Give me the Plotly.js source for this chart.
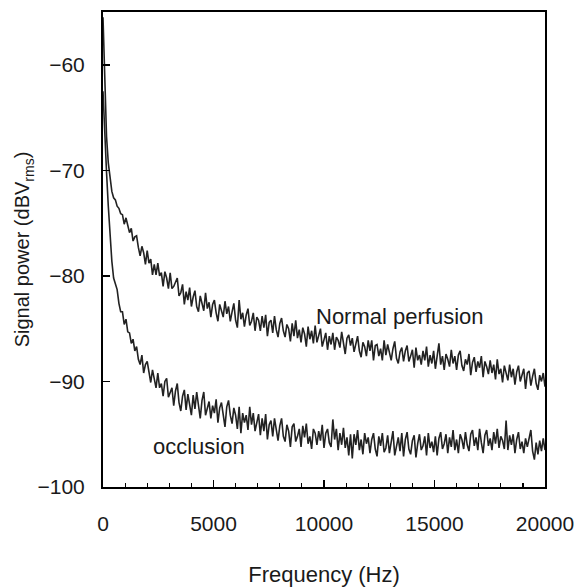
<!DOCTYPE html>
<html>
<head>
<meta charset="utf-8">
<script src="https://cdn.plot.ly/plotly-3.0.1.min.js"></script>
<style>html,body{margin:0;padding:0;background:#fff;}#chart{width:586px;height:587px;}</style>
</head>
<body>
<div id="chart"></div>
<script>
// Frequency bin spacing (Hz) of the spectra
const BIN_HZ = 80;

// Signal power (dBVrms), normal perfusion, one value per bin from 0 Hz to 20000 Hz
const normalPerfusion = [
-55.5,-62.0,-66.8,-69.3,-70.9,-72.0,-72.6,-72.8,-73.4,-73.6,-74.1,
-74.2,-75.1,-74.5,-75.2,-75.9,-75.5,-76.7,-76.3,-76.2,-77.3,
-78.1,-77.2,-77.8,-78.9,-77.6,-78.8,-78.4,-79.9,-78.9,-79.9,
-78.8,-80.0,-79.7,-81.0,-79.6,-80.2,-81.2,-79.7,-81.2,-81.0,
-80.5,-80.2,-81.9,-81.6,-80.8,-82.7,-81.5,-82.3,-81.1,-82.9,
-82.0,-81.4,-82.9,-83.4,-81.9,-82.5,-83.3,-81.6,-83.1,-82.5,
-83.9,-82.7,-82.3,-83.5,-84.3,-82.7,-83.3,-83.9,-82.4,-83.6,
-82.9,-84.3,-83.4,-82.6,-84.2,-84.9,-82.3,-84.1,-83.5,-84.8,
-83.7,-83.1,-84.7,-84.3,-83.5,-85.2,-83.9,-84.2,-85.2,-83.8,
-84.9,-83.7,-85.7,-84.4,-84.2,-85.4,-83.8,-85.1,-85.8,-84.5,
-84.0,-85.2,-85.8,-84.6,-85.0,-86.2,-84.5,-85.7,-84.2,-85.9,
-85.1,-86.3,-84.9,-85.5,-86.7,-84.8,-86.0,-85.2,-86.4,-84.7,
-86.3,-85.6,-85.0,-86.7,-86.0,-85.4,-87.0,-85.7,-86.5,-85.4,
-87.0,-85.8,-86.1,-86.8,-85.3,-86.6,-87.4,-85.9,-85.6,-86.6,
-85.9,-87.2,-86.4,-85.7,-87.1,-87.7,-86.3,-86.7,-87.6,-86.1,
-87.1,-86.1,-88.0,-86.6,-86.5,-87.6,-86.9,-88.0,-86.1,-87.5,
-86.5,-87.4,-88.0,-86.9,-86.2,-87.8,-88.3,-87.2,-86.8,-88.1,
-87.1,-86.6,-88.1,-87.6,-87.0,-88.7,-86.8,-88.0,-87.5,-88.4,
-87.1,-88.0,-86.7,-88.6,-87.5,-88.3,-87.1,-88.8,-87.4,-86.4,
-88.4,-87.6,-88.9,-87.4,-87.9,-88.6,-87.0,-88.3,-87.6,-88.9,
-87.5,-87.1,-88.5,-89.0,-87.9,-88.4,-87.4,-89.4,-88.2,-87.7,
-89.1,-88.1,-88.7,-87.6,-89.6,-88.1,-88.6,-89.3,-88.0,-89.2,
-88.4,-89.8,-87.9,-89.3,-88.8,-90.1,-88.5,-89.1,-89.9,-88.4,
-89.6,-88.8,-90.3,-89.1,-88.5,-90.0,-89.5,-88.8,-90.7,-89.2,
-89.0,-90.4,-89.5,-88.8,-90.2,-90.8,-89.4,-90.0,-89.2,-90.5
];

// Signal power (dBVrms), occlusion, one value per bin from 0 Hz to 20000 Hz
const occlusion = [
-62.5,-66.8,-70.2,-73.4,-76.3,-78.6,-80.2,-80.8,-81.3,-82.6,-83.4,
-83.4,-84.6,-84.1,-85.3,-85.4,-86.4,-86.0,-87.1,-86.7,-87.9,
-88.4,-87.5,-89.2,-88.4,-88.1,-89.3,-90.1,-88.9,-89.6,-90.6,
-89.2,-90.6,-90.2,-91.4,-90.0,-89.7,-91.5,-91.1,-90.6,-92.3,
-90.9,-90.2,-92.0,-92.8,-91.4,-90.8,-92.7,-91.2,-92.2,-93.2,
-91.3,-92.6,-91.0,-92.1,-93.5,-91.8,-91.0,-93.2,-92.6,-91.9,
-93.5,-92.3,-93.0,-91.7,-93.9,-92.5,-92.0,-93.4,-94.3,-92.4,
-91.8,-93.2,-94.0,-92.5,-93.2,-94.5,-92.4,-94.9,-93.0,-93.9,
-93.2,-94.6,-92.4,-94.1,-93.0,-94.7,-93.9,-93.1,-95.1,-93.5,
-94.7,-93.1,-95.5,-94.1,-93.7,-95.2,-93.5,-94.8,-95.6,-94.2,
-93.5,-95.2,-95.7,-94.1,-94.7,-96.2,-94.3,-94.0,-95.7,-95.2,
-94.5,-96.2,-94.2,-95.3,-94.0,-95.9,-95.2,-96.4,-94.5,-94.9,
-96.0,-94.7,-95.6,-94.1,-96.3,-94.9,-94.5,-95.8,-96.2,-93.6,
-95.5,-94.5,-96.5,-94.9,-96.0,-94.4,-96.3,-95.3,-97.0,-95.0,
-97.3,-95.0,-96.0,-94.6,-96.5,-95.5,-96.9,-94.9,-95.9,-95.3,
-96.8,-95.5,-94.9,-96.4,-97.1,-95.2,-96.1,-94.9,-96.7,-96.3,
-95.1,-96.8,-95.8,-94.7,-97.0,-96.2,-95.3,-96.6,-94.9,-97.1,
-95.5,-94.8,-96.4,-96.9,-95.6,-95.1,-97.2,-95.9,-95.0,-96.5,
-96.1,-95.2,-97.0,-94.9,-96.3,-95.7,-96.7,-95.2,-97.0,-95.4,
-94.8,-96.4,-95.9,-95.0,-96.8,-95.3,-96.2,-94.6,-96.5,-95.5,
-96.8,-95.0,-95.5,-96.4,-94.8,-96.0,-96.6,-95.0,-94.6,-96.1,
-95.3,-96.5,-94.5,-95.8,-96.8,-95.1,-94.6,-96.1,-95.4,-96.5,
-94.8,-95.9,-94.5,-96.3,-95.2,-95.6,-96.4,-93.7,-96.5,-95.1,
-96.0,-95.0,-96.8,-95.5,-94.8,-96.4,-95.7,-96.8,-95.4,-96.2,
-95.2,-94.6,-96.6,-97.4,-95.8,-96.9,-95.6,-96.6,-95.4,-96.5
];

// Axis tick values
const xTickVals = [0, 5000, 10000, 15000, 20000];
const yTickVals = [-100, -90, -80, -70, -60];

// Curve labels
const curveLabels = [
  {text: 'Normal perfusion', x: 13440, y: -83.8},
  {text: 'occlusion', x: 4340, y: -96.2}
];

const freq = normalPerfusion.map((_, i) => i * BIN_HZ);

const FONT = 'Liberation Sans, Arial, Helvetica, sans-serif';
const TXT = '#1a1a1a';
const lineStyle = {color: '#222222', width: 1.6};

const traces = [
  {x: freq, y: normalPerfusion, type: 'scatter', mode: 'lines', line: lineStyle, name: 'Normal perfusion', hoverinfo: 'skip'},
  {x: freq, y: occlusion, type: 'scatter', mode: 'lines', line: lineStyle, name: 'occlusion', hoverinfo: 'skip'}
];

const layout = {
  width: 586, height: 587,
  margin: {l: 103, r: 41, t: 12, b: 100, pad: 0},
  paper_bgcolor: '#ffffff', plot_bgcolor: '#ffffff',
  showlegend: false,
  font: {family: FONT, size: 21, color: TXT},
  xaxis: {
    range: [0, 20000],
    tickvals: xTickVals,
    tickformat: 'd',
    ticks: 'inside', ticklen: 7, tickwidth: 1.5, tickcolor: '#000',
    minor: {dtick: 1000, ticks: 'inside', ticklen: 4, tickwidth: 1.2, tickcolor: '#000'},
    showline: true, linecolor: '#000', linewidth: 2, mirror: true,
    showgrid: false, zeroline: false,
    ticklabelstandoff: 17,
    tickfont: {family: FONT, size: 21, color: TXT},
    title: {text: 'Frequency (Hz)', font: {family: FONT, size: 22, color: TXT}, standoff: 33}
  },
  yaxis: {
    range: [-100, -55],
    tickvals: yTickVals,
    ticks: 'inside', ticklen: 7, tickwidth: 1.5, tickcolor: '#000',
    showline: true, linecolor: '#000', linewidth: 2, mirror: true,
    showgrid: false, zeroline: false,
    ticklabelstandoff: 12,
    tickfont: {family: FONT, size: 21, color: TXT},
    title: {text: 'Signal power (dBV<sub>rms</sub>)', font: {family: FONT, size: 20, color: TXT}, standoff: 2}
  },
  annotations: curveLabels.map(l => ({
    x: l.x, y: l.y, xref: 'x', yref: 'y', text: l.text, showarrow: false,
    font: {family: FONT, size: 22, color: TXT}
  }))
};

Plotly.newPlot('chart', traces, layout, {displayModeBar: false, staticPlot: true});
</script>
</body>
</html>
